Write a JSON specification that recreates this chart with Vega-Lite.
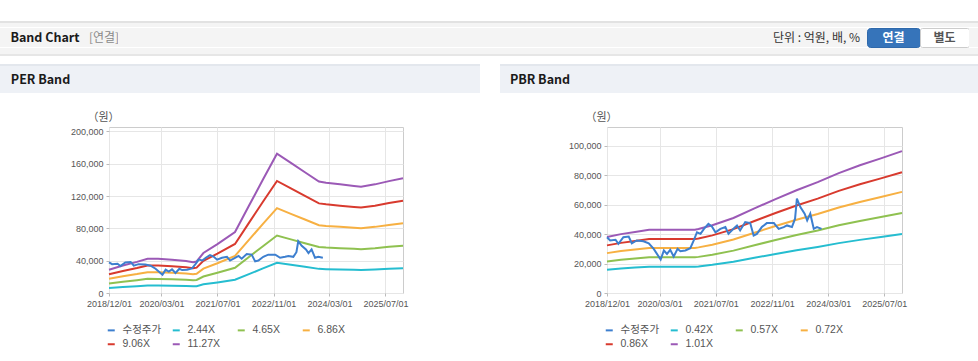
{
"$schema":"https://vega.github.io/schema/vega-lite/v6.json",
"background":"white",
"padding":{"left":0,"top":21,"right":0,"bottom":0},
"config":{
 "view":{"stroke":null},
 "axis":{"labelFont":"Liberation Sans","labelFontSize":9,"labelColor":"#555555","gridColor":"#e6e6e6","domain":false,"tickColor":"#bbbbbb","tickSize":3,"labelPadding":3,"labelOverlap":false,"tickCount":12,"titleFont":"Noto Sans CJK KR","titleFontSize":11,"titleFontWeight":"normal","titleColor":"#555555"},
 "legend":{"orient":"bottom","direction":"horizontal","columns":4,"gridAlign":"all","symbolType":"stroke","symbolSize":49,"symbolStrokeWidth":2,"labelFont":"Liberation Sans, Noto Sans CJK KR","labelFontSize":10.5,"labelColor":"#555555","columnPadding":6,"rowPadding":3,"labelOffset":6,"offset":17,"labelLimit":200,"symbolOffset":-3}
},
"datasets":{
"price":[
{"d":"2018-12-01","s":"수정주가","v":37900},{"d":"2018-12-28","s":"수정주가","v":35700},{"d":"2019-02-13","s":"수정주가","v":36200},{"d":"2019-03-10","s":"수정주가","v":33400},{"d":"2019-04-22","s":"수정주가","v":37900},{"d":"2019-06-07","s":"수정주가","v":38400},{"d":"2019-07-04","s":"수정주가","v":33800},{"d":"2019-08-16","s":"수정주가","v":35700},{"d":"2019-10-13","s":"수정주가","v":35200},{"d":"2019-11-28","s":"수정주가","v":33800},{"d":"2020-01-10","s":"수정주가","v":30000},{"d":"2020-03-10","s":"수정주가","v":22700},{"d":"2020-04-07","s":"수정주가","v":28900},{"d":"2020-05-04","s":"수정주가","v":26600},{"d":"2020-06-01","s":"수정주가","v":29300},{"d":"2020-07-01","s":"수정주가","v":24800},{"d":"2020-08-04","s":"수정주가","v":30000},{"d":"2020-08-28","s":"수정주가","v":28400},{"d":"2020-10-10","s":"수정주가","v":28900},{"d":"2020-11-22","s":"수정주가","v":30400},{"d":"2020-12-22","s":"수정주가","v":35700},{"d":"2021-01-19","s":"수정주가","v":41300},{"d":"2021-02-19","s":"수정주가","v":40200},{"d":"2021-03-22","s":"수정주가","v":43700},{"d":"2021-04-28","s":"수정주가","v":47000},{"d":"2021-05-28","s":"수정주가","v":45200},{"d":"2021-06-28","s":"수정주가","v":41300},{"d":"2021-08-10","s":"수정주가","v":43600},{"d":"2021-09-22","s":"수정주가","v":44800},{"d":"2021-10-19","s":"수정주가","v":40200},{"d":"2021-12-01","s":"수정주가","v":43600},{"d":"2022-01-01","s":"수정주가","v":45900},{"d":"2022-01-28","s":"수정주가","v":42500},{"d":"2022-03-13","s":"수정주가","v":48200},{"d":"2022-04-25","s":"수정주가","v":47500},{"d":"2022-05-25","s":"수정주가","v":39100},{"d":"2022-06-22","s":"수정주가","v":40200},{"d":"2022-08-04","s":"수정주가","v":44800},{"d":"2022-09-16","s":"수정주가","v":47500},{"d":"2022-11-16","s":"수정주가","v":47500},{"d":"2022-12-28","s":"수정주가","v":43600},{"d":"2023-02-10","s":"수정주가","v":44800},{"d":"2023-03-10","s":"수정주가","v":45900},{"d":"2023-04-22","s":"수정주가","v":44800},{"d":"2023-05-19","s":"수정주가","v":50500},{"d":"2023-06-04","s":"수정주가","v":64100},{"d":"2023-07-04","s":"수정주가","v":58400},{"d":"2023-08-10","s":"수정주가","v":53900},{"d":"2023-09-01","s":"수정주가","v":49300},{"d":"2023-09-28","s":"수정주가","v":53900},{"d":"2023-10-28","s":"수정주가","v":43600},{"d":"2023-11-25","s":"수정주가","v":44800},{"d":"2024-01-04","s":"수정주가","v":43600}
],
"per":[
{"d":"2018-12-01","s":"2.44X","v":6235},{"d":"2018-12-01","s":"4.65X","v":11883},{"d":"2018-12-01","s":"6.86X","v":17531},{"d":"2018-12-01","s":"9.06X","v":23152},{"d":"2018-12-01","s":"11.27X","v":28800},
{"d":"2019-04-01","s":"2.44X","v":7361},{"d":"2019-04-01","s":"4.65X","v":14028},{"d":"2019-04-01","s":"6.86X","v":20696},{"d":"2019-04-01","s":"9.06X","v":27333},{"d":"2019-04-01","s":"11.27X","v":34000},
{"d":"2019-08-01","s":"2.44X","v":8335},{"d":"2019-08-01","s":"4.65X","v":15885},{"d":"2019-08-01","s":"6.86X","v":23435},{"d":"2019-08-01","s":"9.06X","v":30950},{"d":"2019-08-01","s":"11.27X","v":38500},
{"d":"2019-11-01","s":"2.44X","v":9180},{"d":"2019-11-01","s":"4.65X","v":17494},{"d":"2019-11-01","s":"6.86X","v":25809},{"d":"2019-11-01","s":"9.06X","v":34085},{"d":"2019-11-01","s":"11.27X","v":42400},
{"d":"2020-02-01","s":"2.44X","v":9158},{"d":"2020-02-01","s":"4.65X","v":17453},{"d":"2020-02-01","s":"6.86X","v":25748},{"d":"2020-02-01","s":"9.06X","v":34005},{"d":"2020-02-01","s":"11.27X","v":42300},
{"d":"2020-06-01","s":"2.44X","v":8920},{"d":"2020-06-01","s":"4.65X","v":16999},{"d":"2020-06-01","s":"6.86X","v":25078},{"d":"2020-06-01","s":"9.06X","v":33121},{"d":"2020-06-01","s":"11.27X","v":41200},
{"d":"2020-10-01","s":"2.44X","v":8552},{"d":"2020-10-01","s":"4.65X","v":16298},{"d":"2020-10-01","s":"6.86X","v":24044},{"d":"2020-10-01","s":"9.06X","v":31754},{"d":"2020-10-01","s":"11.27X","v":39500},
{"d":"2020-12-01","s":"2.44X","v":8227},{"d":"2020-12-01","s":"4.65X","v":15679},{"d":"2020-12-01","s":"6.86X","v":23131},{"d":"2020-12-01","s":"9.06X","v":30548},{"d":"2020-12-01","s":"11.27X","v":38000},
{"d":"2021-01-01","s":"2.44X","v":8444},{"d":"2021-01-01","s":"4.65X","v":16091},{"d":"2021-01-01","s":"6.86X","v":23739},{"d":"2021-01-01","s":"9.06X","v":31352},{"d":"2021-01-01","s":"11.27X","v":39000},
{"d":"2021-03-01","s":"2.44X","v":10717},{"d":"2021-03-01","s":"4.65X","v":20424},{"d":"2021-03-01","s":"6.86X","v":30131},{"d":"2021-03-01","s":"9.06X","v":39793},{"d":"2021-03-01","s":"11.27X","v":49500},
{"d":"2021-07-01","s":"2.44X","v":13120},{"d":"2021-07-01","s":"4.65X","v":25004},{"d":"2021-07-01","s":"6.86X","v":36887},{"d":"2021-07-01","s":"9.06X","v":48716},{"d":"2021-07-01","s":"11.27X","v":60600},
{"d":"2021-12-01","s":"2.44X","v":16346},{"d":"2021-12-01","s":"4.65X","v":31151},{"d":"2021-12-01","s":"6.86X","v":45957},{"d":"2021-12-01","s":"9.06X","v":60694},{"d":"2021-12-01","s":"11.27X","v":75500},
{"d":"2022-04-01","s":"2.44X","v":23382},{"d":"2022-04-01","s":"4.65X","v":44561},{"d":"2022-04-01","s":"6.86X","v":65740},{"d":"2022-04-01","s":"9.06X","v":86821},{"d":"2022-04-01","s":"11.27X","v":108000},
{"d":"2022-08-01","s":"2.44X","v":30418},{"d":"2022-08-01","s":"4.65X","v":57970},{"d":"2022-08-01","s":"6.86X","v":85522},{"d":"2022-08-01","s":"9.06X","v":112948},{"d":"2022-08-01","s":"11.27X","v":140500},
{"d":"2022-12-01","s":"2.44X","v":37346},{"d":"2022-12-01","s":"4.65X","v":71174},{"d":"2022-12-01","s":"6.86X","v":105001},{"d":"2022-12-01","s":"9.06X","v":138673},{"d":"2022-12-01","s":"11.27X","v":172500},
{"d":"2023-04-01","s":"2.44X","v":34857},{"d":"2023-04-01","s":"4.65X","v":66429},{"d":"2023-04-01","s":"6.86X","v":98001},{"d":"2023-04-01","s":"9.06X","v":129428},{"d":"2023-04-01","s":"11.27X","v":161000},
{"d":"2023-08-01","s":"2.44X","v":32367},{"d":"2023-08-01","s":"4.65X","v":61684},{"d":"2023-08-01","s":"6.86X","v":91001},{"d":"2023-08-01","s":"9.06X","v":120183},{"d":"2023-08-01","s":"11.27X","v":149500},
{"d":"2023-12-01","s":"2.44X","v":29877},{"d":"2023-12-01","s":"4.65X","v":56939},{"d":"2023-12-01","s":"6.86X","v":84001},{"d":"2023-12-01","s":"9.06X","v":110938},{"d":"2023-12-01","s":"11.27X","v":138000},
{"d":"2024-02-01","s":"2.44X","v":29552},{"d":"2024-02-01","s":"4.65X","v":56320},{"d":"2024-02-01","s":"6.86X","v":83088},{"d":"2024-02-01","s":"9.06X","v":109732},{"d":"2024-02-01","s":"11.27X","v":136500},
{"d":"2024-06-01","s":"2.44X","v":29119},{"d":"2024-06-01","s":"4.65X","v":55495},{"d":"2024-06-01","s":"6.86X","v":81870},{"d":"2024-06-01","s":"9.06X","v":108125},{"d":"2024-06-01","s":"11.27X","v":134500},
{"d":"2024-10-01","s":"2.44X","v":28686},{"d":"2024-10-01","s":"4.65X","v":54670},{"d":"2024-10-01","s":"6.86X","v":80653},{"d":"2024-10-01","s":"9.06X","v":106517},{"d":"2024-10-01","s":"11.27X","v":132500},
{"d":"2024-12-01","s":"2.44X","v":28470},{"d":"2024-12-01","s":"4.65X","v":54257},{"d":"2024-12-01","s":"6.86X","v":80044},{"d":"2024-12-01","s":"9.06X","v":105713},{"d":"2024-12-01","s":"11.27X","v":131500},
{"d":"2025-04-01","s":"2.44X","v":29119},{"d":"2025-04-01","s":"4.65X","v":55495},{"d":"2025-04-01","s":"6.86X","v":81870},{"d":"2025-04-01","s":"9.06X","v":108125},{"d":"2025-04-01","s":"11.27X","v":134500},
{"d":"2025-08-01","s":"2.44X","v":29985},{"d":"2025-08-01","s":"4.65X","v":57145},{"d":"2025-08-01","s":"6.86X","v":84305},{"d":"2025-08-01","s":"9.06X","v":111340},{"d":"2025-08-01","s":"11.27X","v":138500},
{"d":"2025-12-01","s":"2.44X","v":30743},{"d":"2025-12-01","s":"4.65X","v":58589},{"d":"2025-12-01","s":"6.86X","v":86435},{"d":"2025-12-01","s":"9.06X","v":114154},{"d":"2025-12-01","s":"11.27X","v":142000}
],
"pbr":[
{"d":"2018-12-01","s":"0.42X","v":15802},{"d":"2018-12-01","s":"0.57X","v":21446},{"d":"2018-12-01","s":"0.72X","v":27089},{"d":"2018-12-01","s":"0.86X","v":32357},{"d":"2018-12-01","s":"1.01X","v":38000},
{"d":"2019-04-01","s":"0.42X","v":16634},{"d":"2019-04-01","s":"0.57X","v":22574},{"d":"2019-04-01","s":"0.72X","v":28515},{"d":"2019-04-01","s":"0.86X","v":34060},{"d":"2019-04-01","s":"1.01X","v":40000},
{"d":"2019-08-01","s":"0.42X","v":17257},{"d":"2019-08-01","s":"0.57X","v":23421},{"d":"2019-08-01","s":"0.72X","v":29584},{"d":"2019-08-01","s":"0.86X","v":35337},{"d":"2019-08-01","s":"1.01X","v":41500},
{"d":"2019-12-01","s":"0.42X","v":17881},{"d":"2019-12-01","s":"0.57X","v":24267},{"d":"2019-12-01","s":"0.72X","v":30653},{"d":"2019-12-01","s":"0.86X","v":36614},{"d":"2019-12-01","s":"1.01X","v":43000},
{"d":"2021-01-01","s":"0.42X","v":17881},{"d":"2021-01-01","s":"0.57X","v":24267},{"d":"2021-01-01","s":"0.72X","v":30653},{"d":"2021-01-01","s":"0.86X","v":36614},{"d":"2021-01-01","s":"1.01X","v":43000},
{"d":"2021-02-01","s":"0.42X","v":18089},{"d":"2021-02-01","s":"0.57X","v":24550},{"d":"2021-02-01","s":"0.72X","v":31010},{"d":"2021-02-01","s":"0.86X","v":37040},{"d":"2021-02-01","s":"1.01X","v":43500},
{"d":"2021-06-01","s":"0.42X","v":19129},{"d":"2021-06-01","s":"0.57X","v":25961},{"d":"2021-06-01","s":"0.72X","v":32792},{"d":"2021-06-01","s":"0.86X","v":39169},{"d":"2021-06-01","s":"1.01X","v":46000},
{"d":"2021-12-01","s":"0.42X","v":21208},{"d":"2021-12-01","s":"0.57X","v":28782},{"d":"2021-12-01","s":"0.72X","v":36356},{"d":"2021-12-01","s":"0.86X","v":43426},{"d":"2021-12-01","s":"1.01X","v":51000},
{"d":"2022-06-01","s":"0.42X","v":23911},{"d":"2022-06-01","s":"0.57X","v":32451},{"d":"2022-06-01","s":"0.72X","v":40990},{"d":"2022-06-01","s":"0.86X","v":48961},{"d":"2022-06-01","s":"1.01X","v":57500},
{"d":"2022-12-01","s":"0.42X","v":26531},{"d":"2022-12-01","s":"0.57X","v":36006},{"d":"2022-12-01","s":"0.72X","v":45481},{"d":"2022-12-01","s":"0.86X","v":54325},{"d":"2022-12-01","s":"1.01X","v":63800},
{"d":"2023-06-01","s":"0.42X","v":29026},{"d":"2023-06-01","s":"0.57X","v":39392},{"d":"2023-06-01","s":"0.72X","v":49758},{"d":"2023-06-01","s":"0.86X","v":59434},{"d":"2023-06-01","s":"1.01X","v":69800},
{"d":"2023-12-01","s":"0.42X","v":31313},{"d":"2023-12-01","s":"0.57X","v":42496},{"d":"2023-12-01","s":"0.72X","v":53679},{"d":"2023-12-01","s":"0.86X","v":64117},{"d":"2023-12-01","s":"1.01X","v":75300},
{"d":"2024-06-01","s":"0.42X","v":33891},{"d":"2024-06-01","s":"0.57X","v":45995},{"d":"2024-06-01","s":"0.72X","v":58099},{"d":"2024-06-01","s":"0.86X","v":69396},{"d":"2024-06-01","s":"1.01X","v":81500},
{"d":"2024-12-01","s":"0.42X","v":36095},{"d":"2024-12-01","s":"0.57X","v":48986},{"d":"2024-12-01","s":"0.72X","v":61877},{"d":"2024-12-01","s":"0.86X","v":73909},{"d":"2024-12-01","s":"1.01X","v":86800},
{"d":"2025-06-01","s":"0.42X","v":38049},{"d":"2025-06-01","s":"0.57X","v":51639},{"d":"2025-06-01","s":"0.72X","v":65228},{"d":"2025-06-01","s":"0.86X","v":77911},{"d":"2025-06-01","s":"1.01X","v":91500},
{"d":"2025-12-01","s":"0.42X","v":40087},{"d":"2025-12-01","s":"0.57X","v":54404},{"d":"2025-12-01","s":"0.72X","v":68721},{"d":"2025-12-01","s":"0.86X","v":82084},{"d":"2025-12-01","s":"1.01X","v":96400}
]
},
"spacing":0,
"resolve":{"scale":{"color":"independent"},"legend":{"color":"independent"}},
"vconcat":[
 {"width":978,"height":2,"view":{"fill":"#e2e2e2","stroke":null},"data":{"values":[]},"mark":"text"},
 {"width":978,"height":4,"view":{"fill":"#f4f4f4","stroke":null},"data":{"values":[]},"mark":"text"},
 {"bounds":"flush","spacing":0,
  "hconcat":[
   {"width":90,"height":19,"view":{"fill":"#f4f4f4","stroke":null},"data":{"values":[{"t":"Band Chart"}]},"mark":{"type":"text","font":"Noto Sans CJK KR","fontSize":12.5,"fontWeight":"bold","color":"#1a1a1a"},"encoding":{"text":{"field":"t"}}},
   {"width":28,"height":19,"view":{"fill":"#f4f4f4","stroke":null},"data":{"values":[{"t":"[연결]"}]},"mark":{"type":"text","font":"Noto Sans CJK KR","fontSize":12,"color":"#8a8a8a"},"encoding":{"text":{"field":"t"}}},
   {"width":648,"height":19,"view":{"fill":"#f4f4f4","stroke":null},"data":{"values":[]},"mark":"text"},
   {"width":101,"height":19,"view":{"fill":"#f4f4f4","stroke":null},"data":{"values":[{"t":"단위 : 억원, 배, %"}]},"mark":{"type":"text","font":"Noto Sans CJK KR","fontSize":12,"color":"#333333"},"encoding":{"text":{"field":"t"}}},
   {"width":53,"height":19,"view":{"fill":"#3674ba","stroke":"#2f69ab","cornerRadius":3},"data":{"values":[{"t":"연결"}]},"mark":{"type":"text","font":"Noto Sans CJK KR","fontSize":12,"fontWeight":"bold","color":"#ffffff"},"encoding":{"text":{"field":"t"}}},
   {"width":49,"height":19,"view":{"fill":"#ffffff","stroke":"#cccccc","cornerRadius":2},"data":{"values":[{"t":"별도"}]},"mark":{"type":"text","font":"Noto Sans CJK KR","fontSize":12,"fontWeight":"bold","color":"#555555"},"encoding":{"text":{"field":"t"}}},
   {"width":9,"height":19,"view":{"fill":"#f4f4f4","stroke":null},"data":{"values":[]},"mark":"text"}
  ]},
 {"width":978,"height":6,"view":{"fill":"#f4f4f4","stroke":null},"data":{"values":[]},"mark":"text"},
 {"width":978,"height":2,"view":{"fill":"#e6e6e6","stroke":null},"data":{"values":[]},"mark":"text"},
 {"width":978,"height":8,"data":{"values":[]},"mark":"text"},
 {"spacing":20,
  "resolve":{"scale":{"color":"independent"},"legend":{"color":"independent"}},
  "hconcat":[
   {"spacing":0,
    "resolve":{"scale":{"color":"independent"},"legend":{"color":"independent"}},
    "vconcat":[
     {"width":480,"height":2,"view":{"fill":"#e3e7ed","stroke":null},"data":{"values":[]},"mark":"text"},
     {"bounds":"flush","spacing":0,"hconcat":[
       {"width":81,"height":27,"view":{"fill":"#eef1f6","stroke":null},"data":{"values":[{"t":"PER Band"}]},"mark":{"type":"text","font":"Noto Sans CJK KR","fontSize":12.5,"fontWeight":"bold","color":"#1a1a1a"},"encoding":{"text":{"field":"t"}}},
       {"width":399,"height":27,"view":{"fill":"#eef1f6","stroke":null},"data":{"values":[]},"mark":"text"}
     ]},
     {"width":480,"height":17,"data":{"values":[]},"mark":"text"},
     {"bounds":"flush","spacing":0,
      "resolve":{"scale":{"color":"independent"},"legend":{"color":"independent"}},
      "hconcat":[
       {"width":109,"height":166,"data":{"values":[]},"mark":"text"},
       {"width":294,"height":166,"view":{"stroke":"#cccccc"},
        "layer":[
         {"data":{"name":"per"},"mark":{"type":"line","strokeWidth":2},
          "encoding":{
           "x":{"field":"d","type":"temporal","scale":{"type":"utc","domain":[{"year":2018,"month":12,"date":1,"utc":true},{"year":2025,"month":12,"date":1,"utc":true}]},
                "axis":{"title":null,"format":"%Y/%m/%d","labelFlush":false,"values":[{"year":2018,"month":12,"date":1,"utc":true},{"year":2020,"month":3,"date":1,"utc":true},{"year":2021,"month":7,"date":1,"utc":true},{"year":2022,"month":11,"date":1,"utc":true},{"year":2024,"month":3,"date":1,"utc":true},{"year":2025,"month":7,"date":1,"utc":true}]}},
           "y":{"field":"v","type":"quantitative","scale":{"domain":[0,205500],"nice":false},
                "axis":{"values":[0,40000,80000,120000,160000,200000],"tickCount":12,"format":",d","title":"（원）","titleAngle":0,"titleAlign":"center","titleBaseline":"middle","titleX":-6,"titleY":-10}},
           "color":{"field":"s","type":"nominal","scale":{"domain":["수정주가","2.44X","4.65X","6.86X","9.06X","11.27X"],"range":["#3d7fcf","#25bdd0","#8fc150","#f7b042","#d83a2e","#9b59b6"]},"legend":{"title":null}}
          }},
         {"data":{"name":"price"},"mark":{"type":"line","strokeWidth":2},
          "encoding":{"x":{"field":"d","type":"temporal"},"y":{"field":"v","type":"quantitative"},"color":{"field":"s","type":"nominal"}}}
        ]}
      ]}
    ]},
   {"spacing":0,
    "resolve":{"scale":{"color":"independent"},"legend":{"color":"independent"}},
    "vconcat":[
     {"width":478,"height":2,"view":{"fill":"#e3e7ed","stroke":null},"data":{"values":[]},"mark":"text"},
     {"bounds":"flush","spacing":0,"hconcat":[
       {"width":80,"height":27,"view":{"fill":"#eef1f6","stroke":null},"data":{"values":[{"t":"PBR Band"}]},"mark":{"type":"text","font":"Noto Sans CJK KR","fontSize":12.5,"fontWeight":"bold","color":"#1a1a1a"},"encoding":{"text":{"field":"t"}}},
       {"width":398,"height":27,"view":{"fill":"#eef1f6","stroke":null},"data":{"values":[]},"mark":"text"}
     ]},
     {"width":478,"height":17,"data":{"values":[]},"mark":"text"},
     {"bounds":"flush","spacing":0,
      "resolve":{"scale":{"color":"independent"},"legend":{"color":"independent"}},
      "hconcat":[
       {"width":107,"height":166,"data":{"values":[]},"mark":"text"},
       {"width":295,"height":166,"view":{"stroke":"#cccccc"},
        "layer":[
         {"data":{"name":"pbr"},"mark":{"type":"line","strokeWidth":2},
          "encoding":{
           "x":{"field":"d","type":"temporal","scale":{"type":"utc","domain":[{"year":2018,"month":12,"date":1,"utc":true},{"year":2025,"month":12,"date":1,"utc":true}]},
                "axis":{"title":null,"format":"%Y/%m/%d","labelFlush":false,"values":[{"year":2018,"month":12,"date":1,"utc":true},{"year":2020,"month":3,"date":1,"utc":true},{"year":2021,"month":7,"date":1,"utc":true},{"year":2022,"month":11,"date":1,"utc":true},{"year":2024,"month":3,"date":1,"utc":true},{"year":2025,"month":7,"date":1,"utc":true}]}},
           "y":{"field":"v","type":"quantitative","scale":{"domain":[0,112800],"nice":false},
                "axis":{"values":[0,20000,40000,60000,80000,100000],"tickCount":12,"format":",d","title":"（원）","titleAngle":0,"titleAlign":"center","titleBaseline":"middle","titleX":-6,"titleY":-10}},
           "color":{"field":"s","type":"nominal","scale":{"domain":["수정주가","0.42X","0.57X","0.72X","0.86X","1.01X"],"range":["#3d7fcf","#25bdd0","#8fc150","#f7b042","#d83a2e","#9b59b6"]},"legend":{"title":null}}
          }},
         {"data":{"name":"price"},"mark":{"type":"line","strokeWidth":2},
          "encoding":{"x":{"field":"d","type":"temporal"},"y":{"field":"v","type":"quantitative"},"color":{"field":"s","type":"nominal"}}}
        ]}
      ]}
    ]}
  ]}
]
}
